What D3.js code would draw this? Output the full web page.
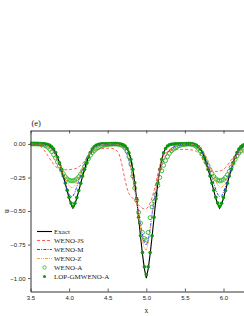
<!DOCTYPE html>
<html><head><meta charset="utf-8">
<script src="https://cdn.jsdelivr.net/npm/d3@7"></script>
<style>html,body{margin:0;padding:0;background:#fff;} svg{display:block;}</style>
</head><body>
<svg id="c" width="244" height="316"></svg>
<script>
// sampling grid
const xStart = 3.5, xStep = 0.025, nPts = 113;
const xGrid = d3.range(nPts).map(i => +(xStart + i * xStep).toFixed(3));

const exact = [
0,0,0,0,0,0,0,0,0,-0.003,
-0.009,-0.02,-0.037,-0.063,-0.098,-0.14,-0.19,-0.24,-0.295,-0.35,
-0.405,-0.45,-0.48,-0.45,-0.405,-0.35,-0.295,-0.24,-0.19,-0.14,
-0.098,-0.063,-0.037,-0.02,-0.009,-0.003,0,0,0,0,
0,0,0,0,0,0,0,-0.002,-0.006,-0.015,
-0.033,-0.065,-0.115,-0.19,-0.29,-0.41,-0.55,-0.69,-0.82,-0.93,
-1.0,-0.93,-0.82,-0.69,-0.55,-0.41,-0.29,-0.19,-0.115,-0.065,
-0.033,-0.015,-0.006,-0.002,0,0,0,0,0,0,
0,0,0,0,0,-0.003,-0.009,-0.02,-0.037,-0.063,
-0.098,-0.14,-0.19,-0.24,-0.295,-0.35,-0.405,-0.45,-0.48,-0.45,
-0.405,-0.35,-0.295,-0.24,-0.19,-0.14,-0.098,-0.063,-0.037,-0.02,
-0.009,-0.003,0];

const wenoJS = [
-0.002,-0.003,-0.004,-0.006,-0.01,-0.017,-0.028,-0.045,-0.065,-0.088,
-0.11,-0.132,-0.152,-0.168,-0.18,-0.187,-0.19,-0.192,-0.193,-0.193,
-0.192,-0.19,-0.188,-0.185,-0.18,-0.172,-0.16,-0.145,-0.127,-0.107,
-0.088,-0.072,-0.06,-0.051,-0.045,-0.041,-0.038,-0.036,-0.034,-0.033,
-0.032,-0.032,-0.033,-0.036,-0.042,-0.055,-0.08,-0.13,-0.2,-0.27,
-0.33,-0.37,-0.39,-0.405,-0.42,-0.44,-0.455,-0.47,-0.48,-0.485,
-0.482,-0.47,-0.44,-0.4,-0.35,-0.29,-0.22,-0.16,-0.115,-0.085,
-0.068,-0.058,-0.052,-0.048,-0.046,-0.044,-0.043,-0.042,-0.041,-0.041,
-0.041,-0.041,-0.042,-0.044,-0.046,-0.05,-0.055,-0.065,-0.085,-0.11,
-0.14,-0.162,-0.18,-0.192,-0.2,-0.204,-0.205,-0.205,-0.203,-0.198,
-0.19,-0.177,-0.16,-0.14,-0.12,-0.105,-0.094,-0.085,-0.078,-0.072,
-0.068,-0.065,-0.062];

const wenoM = [
0,0,0,0,0,-0.001,-0.002,-0.004,-0.008,-0.014,
-0.024,-0.038,-0.058,-0.085,-0.12,-0.16,-0.205,-0.25,-0.295,-0.34,
-0.375,-0.395,-0.39,-0.36,-0.32,-0.275,-0.23,-0.185,-0.145,-0.11,
-0.08,-0.058,-0.04,-0.027,-0.018,-0.012,-0.008,-0.005,-0.003,-0.002,
-0.001,-0.001,-0.001,-0.002,-0.003,-0.005,-0.009,-0.016,-0.028,-0.048,
-0.08,-0.125,-0.185,-0.255,-0.335,-0.42,-0.51,-0.6,-0.68,-0.74,
-0.755,-0.72,-0.63,-0.52,-0.42,-0.34,-0.27,-0.21,-0.16,-0.12,
-0.09,-0.066,-0.048,-0.034,-0.024,-0.016,-0.011,-0.007,-0.004,-0.002,
-0.001,-0.001,-0.001,-0.002,-0.004,-0.008,-0.014,-0.024,-0.038,-0.058,
-0.085,-0.12,-0.16,-0.205,-0.25,-0.295,-0.34,-0.375,-0.395,-0.39,
-0.36,-0.32,-0.275,-0.23,-0.185,-0.145,-0.11,-0.08,-0.058,-0.04,
-0.027,-0.018,-0.012];

const wenoZ = [
0,0,0,0,-0.001,-0.001,-0.003,-0.005,-0.01,-0.017,
-0.028,-0.043,-0.063,-0.088,-0.118,-0.152,-0.188,-0.222,-0.255,-0.285,
-0.31,-0.325,-0.325,-0.31,-0.285,-0.25,-0.215,-0.178,-0.142,-0.11,
-0.083,-0.061,-0.044,-0.031,-0.021,-0.014,-0.009,-0.006,-0.004,-0.002,
-0.001,-0.001,-0.001,-0.002,-0.003,-0.005,-0.009,-0.016,-0.028,-0.047,
-0.077,-0.12,-0.178,-0.25,-0.335,-0.43,-0.53,-0.63,-0.72,-0.78,
-0.79,-0.74,-0.64,-0.53,-0.43,-0.345,-0.27,-0.208,-0.157,-0.117,
-0.086,-0.062,-0.044,-0.031,-0.021,-0.014,-0.009,-0.006,-0.004,-0.002,
-0.001,-0.001,-0.001,-0.002,-0.004,-0.007,-0.012,-0.02,-0.032,-0.048,
-0.07,-0.098,-0.13,-0.167,-0.205,-0.243,-0.277,-0.305,-0.322,-0.325,
-0.31,-0.285,-0.25,-0.212,-0.175,-0.14,-0.108,-0.081,-0.06,-0.043,
-0.03,-0.021,-0.014];

const wenoA = [
0,0,0,0,-0.001,-0.002,-0.004,-0.008,-0.015,-0.025,
-0.04,-0.058,-0.08,-0.105,-0.135,-0.165,-0.195,-0.222,-0.245,-0.26,
-0.27,-0.275,-0.275,-0.27,-0.26,-0.245,-0.225,-0.2,-0.17,-0.14,
-0.11,-0.085,-0.065,-0.05,-0.038,-0.028,-0.02,-0.014,-0.01,-0.007,
-0.005,-0.003,-0.002,-0.001,-0.001,-0.002,-0.004,-0.008,-0.016,-0.03,
-0.055,-0.095,-0.15,-0.24,-0.33,-0.42,-0.51,-0.59,-0.66,-0.705,
-0.715,-0.66,-0.55,-0.47,-0.43,-0.38,-0.31,-0.25,-0.2,-0.16,
-0.125,-0.095,-0.07,-0.052,-0.04,-0.028,-0.02,-0.013,-0.008,-0.005,
-0.003,-0.002,-0.001,-0.002,-0.005,-0.01,-0.02,-0.034,-0.052,-0.075,
-0.102,-0.132,-0.162,-0.192,-0.22,-0.243,-0.26,-0.27,-0.275,-0.272,
-0.265,-0.25,-0.23,-0.205,-0.175,-0.145,-0.115,-0.088,-0.068,-0.052,
-0.04,-0.03,-0.022];

const lopGMwenoA = [
0,0,0,0,0,0,0,0,-0.001,-0.004,
-0.01,-0.021,-0.038,-0.064,-0.099,-0.141,-0.19,-0.239,-0.292,-0.345,
-0.397,-0.44,-0.465,-0.442,-0.4,-0.348,-0.294,-0.24,-0.19,-0.141,
-0.099,-0.064,-0.038,-0.021,-0.01,-0.004,-0.001,0,0,0,
0,0,0,0,0,0,-0.001,-0.003,-0.007,-0.016,
-0.034,-0.066,-0.116,-0.19,-0.29,-0.408,-0.547,-0.685,-0.81,-0.915,
-0.975,-0.915,-0.81,-0.685,-0.547,-0.408,-0.29,-0.19,-0.116,-0.066,
-0.034,-0.016,-0.007,-0.003,-0.001,0,0,0,0,0,
0,0,0,0,-0.001,-0.004,-0.01,-0.021,-0.038,-0.064,
-0.099,-0.141,-0.19,-0.239,-0.292,-0.345,-0.397,-0.44,-0.465,-0.442,
-0.4,-0.348,-0.294,-0.24,-0.19,-0.141,-0.099,-0.064,-0.038,-0.021,
-0.01,-0.004,-0.001];

const xTicks = [3.5, 4.0, 4.5, 5.0, 5.5, 6.0];
const yTicks = [0, -0.25, -0.5, -0.75, -1.0];
const legendLabels = ["Exact", "WENO-JS", "WENO-M", "WENO-Z", "WENO-A", "LOP-GMWENO-A"];
const panelLabel = "(e)", xLabel = "x", yLabel = "u";

// ---- drawing ----
const svg = d3.select("#c");
svg.append("rect").attr("width", 244).attr("height", 316).attr("fill", "#fff");

const L = 30.5, R = 262.1, T = 130.5, B = 291.5;
const x = d3.scaleLinear().domain([3.5, 6.5]).range([L, R]);
const y = d3.scaleLinear().domain([-1.1, 0.1]).range([B, T]);

const tickFont = "'Liberation Sans', Arial, sans-serif";
const serif = "'Liberation Serif', 'Times New Roman', serif";
const openGreen = "#2fb52f", fillGreen = "#08990a";

svg.append("defs").append("clipPath").attr("id", "clip")
  .append("rect").attr("x", L).attr("y", T).attr("width", R - L).attr("height", B - T);

const plot = svg.append("g").attr("clip-path", "url(#clip)");

function pts(vals) { return vals.map((v, i) => [xGrid[i], v]); }
const line = d3.line().x(d => x(d[0])).y(d => y(d[1]));

// markers first
plot.append("g").selectAll("circle").data(pts(wenoA)).join("circle")
  .attr("cx", d => x(d[0])).attr("cy", d => y(d[1])).attr("r", 2.0)
  .attr("fill", "none").attr("stroke", openGreen).attr("stroke-width", 0.9);

plot.append("path").attr("d", line(pts(exact)))
  .attr("fill", "none").attr("stroke", "#000").attr("stroke-width", 1.1);

plot.append("g").selectAll("circle").data(pts(lopGMwenoA)).join("circle")
  .attr("cx", d => x(d[0])).attr("cy", d => y(d[1])).attr("r", 1.8)
  .attr("fill", fillGreen);

const styles = [
  {data: wenoJS, color: "#ff4a4a", dash: "3,2"},
  {data: wenoM, color: "#2a2aff", dash: "3,1.2,1,1.2"},
  {data: wenoZ, color: "#ff9a30", dash: "3,1,1,1,1,1"}
];
styles.forEach(s => {
  plot.append("path").attr("d", line(pts(s.data)))
    .attr("fill", "none").attr("stroke", s.color).attr("stroke-width", 0.9)
    .attr("stroke-dasharray", s.dash);
});

// axes
const gx = svg.append("g").attr("transform", `translate(0,${B})`)
  .call(d3.axisBottom(x).tickValues(xTicks).tickFormat(d3.format(".1f"))
    .tickSizeInner(-3).tickSizeOuter(0).tickPadding(4.5));
const gxt = svg.append("g").attr("transform", `translate(0,${T})`)
  .call(d3.axisTop(x).tickValues(xTicks).tickFormat("")
    .tickSizeInner(-3).tickSizeOuter(0));
const gy = svg.append("g").attr("transform", `translate(${L},0)`)
  .call(d3.axisLeft(y).tickValues(yTicks).tickFormat(d3.format(".2f"))
    .tickSizeInner(2.5).tickSizeOuter(0).tickPadding(2.5));
[gx, gxt, gy].forEach(g => {
  g.select(".domain").attr("stroke", "#333").attr("stroke-width", 1);
  g.selectAll(".tick line").attr("stroke", "#333").attr("stroke-width", 0.8);
  g.selectAll("text").attr("font-family", tickFont).attr("font-size", 6).attr("fill", "#222");
});

// labels
svg.append("text").attr("x", 31.5).attr("y", 125.5).text(panelLabel)
  .attr("font-family", serif).attr("font-size", 8.5).attr("fill", "#222");
svg.append("text").attr("x", x(5.0)).attr("y", 312.5).attr("text-anchor", "middle").text(xLabel)
  .attr("font-family", serif).attr("font-size", 7.5).attr("fill", "#222");
svg.append("text").attr("transform", `translate(9,${y(-0.5)}) rotate(-90)`)
  .attr("text-anchor", "middle").text(yLabel)
  .attr("font-family", serif).attr("font-size", 7.5).attr("fill", "#222");

// legend
const lg = svg.append("g");
const lx0 = 37, lx1 = 52, ltx = 54, ly0 = 231.5, ldy = 9;
const legendStyles = [
  {type: "line", color: "#000", dash: null, w: 1.1},
  {type: "line", color: "#ff4a4a", dash: "3,2", w: 0.9},
  {type: "line", color: "#2a2aff", dash: "3,1.2,1,1.2", w: 0.9},
  {type: "line", color: "#ff9a30", dash: "3,1,1,1,1,1", w: 0.9},
  {type: "open"},
  {type: "filled"}
];
legendLabels.forEach((lab, i) => {
  const yy = ly0 + i * ldy;
  const s = legendStyles[i];
  if (s.type === "line") {
    lg.append("line").attr("x1", lx0).attr("x2", lx1).attr("y1", yy).attr("y2", yy)
      .attr("stroke", s.color).attr("stroke-width", s.w)
      .attr("stroke-dasharray", s.dash);
  } else if (s.type === "open") {
    lg.append("circle").attr("cx", (lx0 + lx1) / 2).attr("cy", yy).attr("r", 1.7)
      .attr("fill", "none").attr("stroke", openGreen).attr("stroke-width", 0.8);
  } else {
    lg.append("circle").attr("cx", (lx0 + lx1) / 2).attr("cy", yy).attr("r", 1.5)
      .attr("fill", fillGreen);
  }
  lg.append("text").attr("x", ltx).attr("y", yy).attr("dy", "0.35em").text(lab)
    .attr("font-family", serif).attr("font-size", 7).attr("fill", "#222");
});
</script>
</body></html>
